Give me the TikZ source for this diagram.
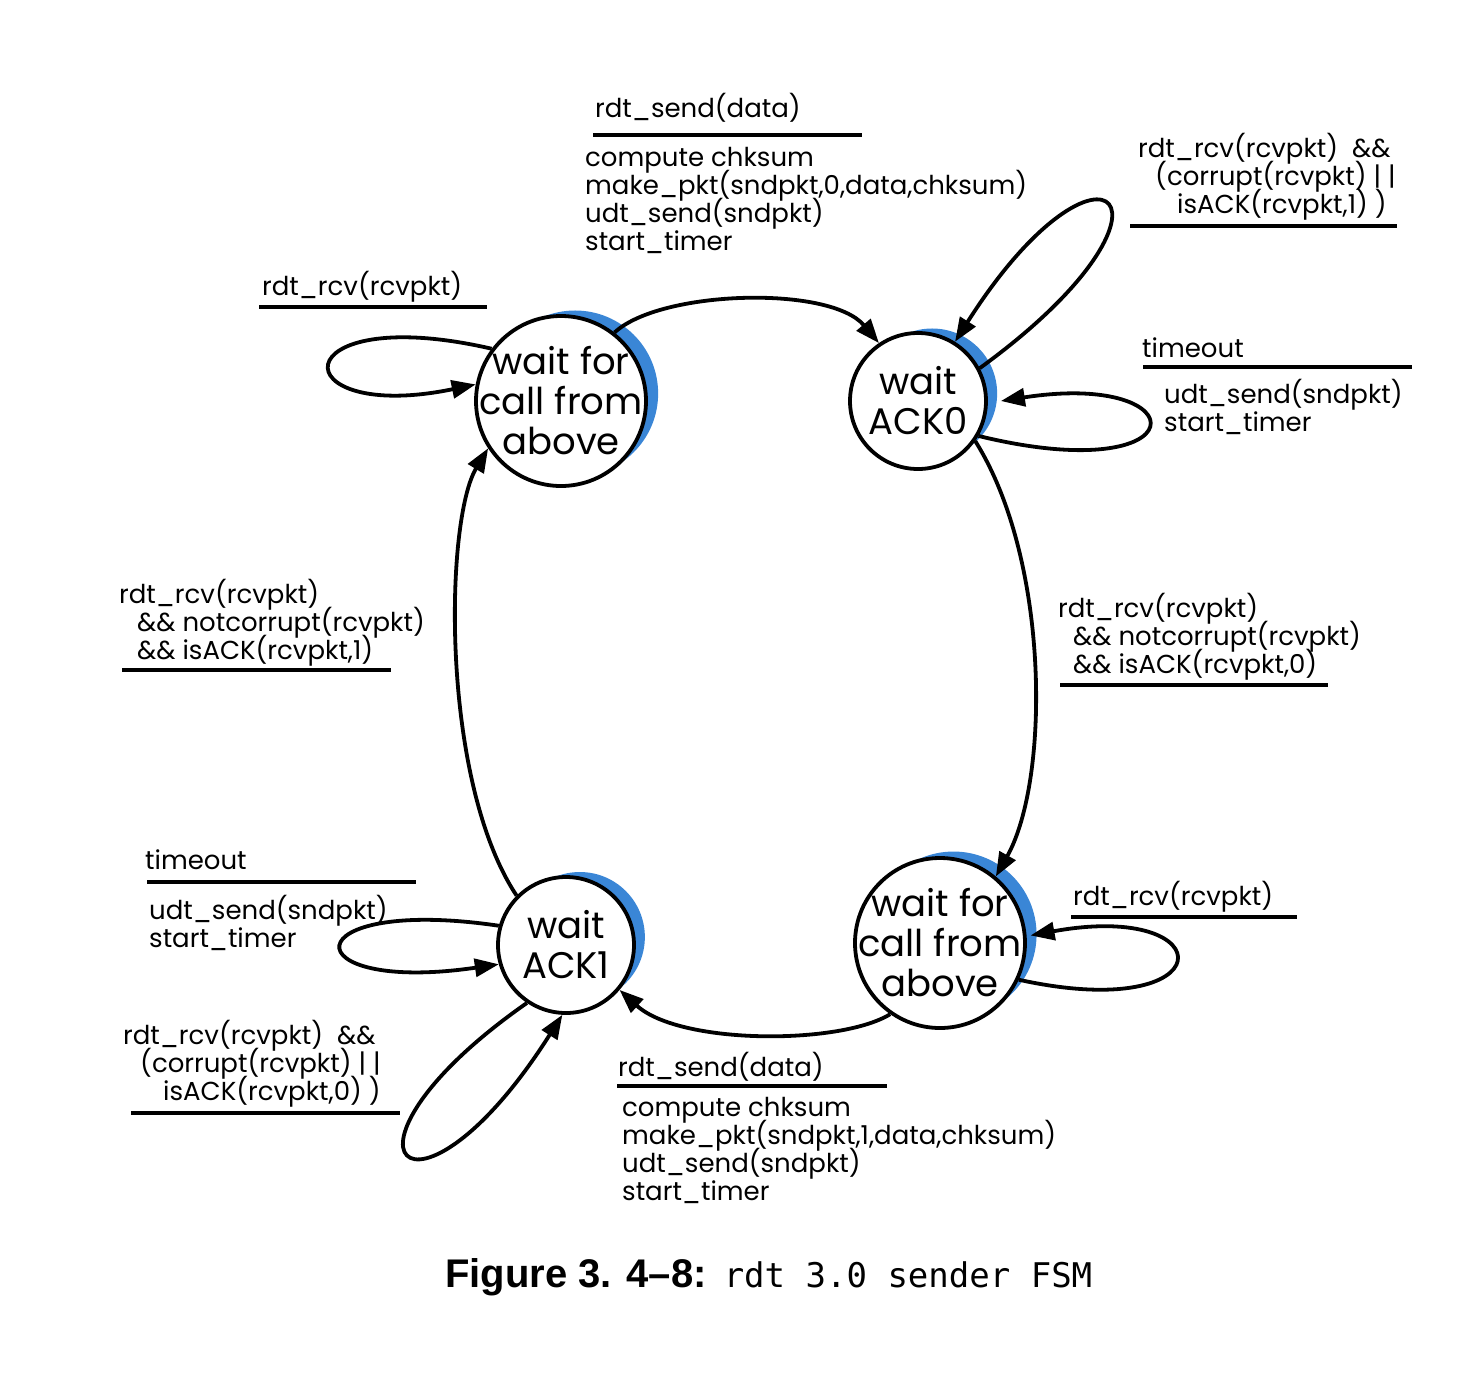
\documentclass[tikz,border=0pt]{standalone}
\usepackage{fontspec}
\setmainfont{Poppins}
\newfontfamily\capfont{Liberation Sans}
\newfontfamily\codefont{DejaVu Sans Mono}
\usetikzlibrary{arrows.meta}
\definecolor{crescent}{RGB}{58,134,214}
\setlength{\lineskiplimit}{-100pt}
\tikzset{
  state/.style={circle,draw,fill=white,line width=3.8pt,inner sep=0pt},
  callstate/.style={state,minimum size=170pt},
  ackstate/.style={state,minimum size=136pt},
  moon/.style={circle,fill=crescent,inner sep=0pt},
  statetxt/.style={align=center,inner sep=0pt,font=\fontsize{37}{40}\selectfont},
  txt/.style={anchor=base west,inner sep=0pt,align=left,font=\fontsize{26}{28}\selectfont},
  bar/.style={line width=3.8pt},
  trans/.style={line width=3.8pt,-{Triangle[length=24pt,width=18pt]}}
}
\begin{document}
\begin{tikzpicture}[x=1pt,y=-1pt]% ------ rdt 3.0 sender ----------------
    \useasboundingbox (0,0) rectangle (1478,1398);
    % blue moons behind the states
    \node[moon,minimum size=166pt] (m0) at ([shift={(28:16pt)}]561,401) {};
    \node[moon,minimum size=130pt] (m1) at ([shift={(28:16pt)}]918,401) {};
    \node[moon,minimum size=166pt] (m2) at ([shift={(32:16pt)}]940,943) {};
    \node[moon,minimum size=130pt] (m3) at ([shift={(30:16pt)}]566,945) {};
    % states
    \node[callstate,label={[statetxt,name=s0t]center:wait for\\call from\\above}] (s0) at (561,401) {};
    \node[ackstate,label={[statetxt,name=a0t]center:wait\\ACK0}] (a0) at (918,401) {};
    \node[callstate,label={[statetxt,name=s1t]center:wait for\\call from\\above}] (s1) at (940,943) {};
    \node[ackstate,label={[statetxt,name=a1t]center:wait\\ACK1}] (a1) at (566,945) {};
    % transitions around the ring
    \draw[trans] (s0.52) .. controls (660,290) and (830,285) .. (a0.124);
    \draw[trans] (a0.-35) .. controls (1050,560) and (1050,780) .. (s1.50);
    \draw[trans] (s1.-125) .. controls (840,1045) and (680,1045) .. (a1.-40);
    \draw[trans] (a1.135) .. controls (440,780) and (445,520) .. (s0.213);
    % self loops
    \draw[trans] (s0.143) .. controls (280,300) and (280,425) .. (s0.169);
    \draw[trans] (a0.28) .. controls (1206,204) and (1102,110) .. (a0.58);
    \draw[trans] (a0.-30) .. controls (1200,490) and (1200,370) .. ([xshift=13]a0.east);
    \draw[trans] (s1.-25) .. controls (1225,1025) and (1225,900) .. ([xshift=4]s1.5);
    \draw[trans] (a1.164) .. controls (290,895) and (290,995) .. (a1.196);
    \draw[trans] (a1.236) .. controls (312,1153) and (414,1249) .. (a1.267);
    % top
    \node[txt] (e0) at (595,117) {rdt\_send(data)};
    \draw[bar] (593,135) -- (862,135);
    \node[txt] (c0) at (585,250) {compute chksum\\make\_pkt(sndpkt,0,data,chksum)\\udt\_send(sndpkt)\\start\_timer};
    % wait ACK0
    \node[txt] (e1) at (1138,213) {rdt\_rcv(rcvpkt)\ \ \&\&\\\hspace*{17pt}(corrupt(rcvpkt) | |\\\hspace*{39pt}isACK(rcvpkt,1) )};
    \draw[bar] (1130,226) -- (1397,226);
    \node[txt] (e2) at (1142,357) {timeout};
    \draw[bar] (1143,367) -- (1412,367);
    \node[txt] (c2) at (1164,431) {udt\_send(sndpkt)\\start\_timer};
    \node[txt] (e3) at (1058,673) {rdt\_rcv(rcvpkt)\\\hspace*{15pt}\&\& notcorrupt(rcvpkt)\\\hspace*{15pt}\&\& isACK(rcvpkt,0)};
    \draw[bar] (1060,685) -- (1328,685);
    % wait for call, left
    \node[txt] (e4) at (262,295) {rdt\_rcv(rcvpkt)};
    \draw[bar] (259,307) -- (487,307);
    \node[txt] (e5) at (119,659) {rdt\_rcv(rcvpkt)\\\hspace*{18pt}\&\& notcorrupt(rcvpkt)\\\hspace*{18pt}\&\& isACK(rcvpkt,1)};
    \draw[bar] (122,670) -- (391,670);
    % wait ACK1
    \node[txt] (e6) at (145,869) {timeout};
    \draw[bar] (147,882) -- (416,882);
    \node[txt] (c6) at (149,947) {udt\_send(sndpkt)\\start\_timer};
    \node[txt] (e7) at (123,1100) {rdt\_rcv(rcvpkt)\ \ \&\&\\\hspace*{17pt}(corrupt(rcvpkt) | |\\\hspace*{40pt}isACK(rcvpkt,0) )};
    \draw[bar] (131,1113) -- (400,1113);
    % wait for call, right
    \node[txt] (e8) at (1073,905) {rdt\_rcv(rcvpkt)};
    \draw[bar] (1071,917) -- (1297,917);
    \node[txt] (e9) at (618,1076) {rdt\_send(data)};
    \draw[bar] (617,1086) -- (887,1086);
    \node[txt] (c9) at (622,1200) {compute chksum\\make\_pkt(sndpkt,1,data,chksum)\\udt\_send(sndpkt)\\start\_timer};
    % caption
    \node[anchor=base west,inner sep=0pt] (cap) at (445,1287) {{\fontsize{40}{44}\capfont\bfseries Figure 3. 4–8:}\hspace{17pt}{\codefont\fontsize{34}{40}\selectfont rdt 3.0 sender FSM}};
\end{tikzpicture}
\end{document}
